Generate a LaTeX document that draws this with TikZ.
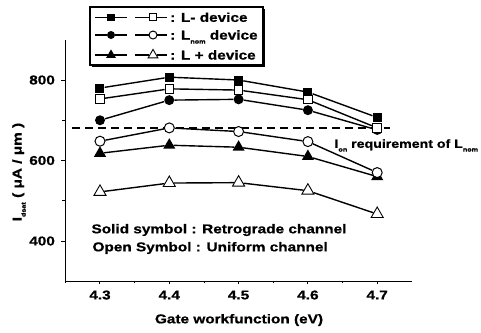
\documentclass[tikz,border=0pt]{standalone}
\usepackage{fontspec}
\setmainfont[FakeStretch=1.2,BoldFeatures={FakeBold=0.8}]{Liberation Sans}
\usetikzlibrary{shapes.geometric}
\newcommand{\lsub}[1]{\raisebox{-0.6ex}{\fontsize{6}{6}\selectfont #1}}

\begin{document}
\begin{tikzpicture}[x=69.3pt,y=40.25pt,
    font=\fontsize{12.8}{14}\selectfont\bfseries,
    fsq/.style={rectangle,fill=black,minimum size=9pt,inner sep=0pt},
    osq/.style={rectangle,draw,fill=white,line width=1pt,minimum size=8.5pt,inner sep=0pt},
    fci/.style={circle,fill=black,minimum size=10pt,inner sep=0pt},
    oci/.style={circle,draw,fill=white,line width=1pt,minimum size=10pt,inner sep=0pt},
    ftr/.style={regular polygon,regular polygon sides=3,fill=black,minimum size=14pt,inner sep=0pt},
    otr/.style={regular polygon,regular polygon sides=3,draw,fill=white,line width=0.9pt,minimum size=14pt,inner sep=0pt},
    link/.style={line width=1.4pt}]

\useasboundingbox (-1.443,1.739) rectangle (5.498,9.988);

% axes
\coordinate (o) at (-0.5,3);
\coordinate (xe) at (4.5,3);
\coordinate (ye) at (-0.5,9);
\draw[line width=1.3pt] (ye) -- (o) -- (xe);

\foreach \k/\g in {0/4.3,1/4.4,2/4.5,3/4.6,4/4.7}{
  \draw[line width=1pt] (\k,3) -- ++(0,-3pt);
  \node (xl\k) at (\k,2.658) {\g};
}
\foreach \k in {-0.5,0.5,1.5,2.5,3.5}
  \draw[line width=0.8pt] (\k,3) -- ++(0,-2pt);
\foreach \v in {4,6,8}{
  \draw[line width=1pt] (-0.5,\v) -- ++(-4pt,0);
  \node[anchor=east] (yl\v) at (-0.60,\v) {\v00};
}
\foreach \v in {5,7}
  \draw[line width=0.8pt] (-0.5,\v) -- ++(-3pt,0);

\node (xt) at (2.006,2.037) {Gate workfunction (eV)};
\node[rotate=90] (yt) at (-1.169,5.714) {I\lsub{dsat} ( μA / μm )};

% requirement line
\coordinate (dl) at (-0.404,6.82);
\coordinate (dr) at (4.185,6.82);
\draw[line width=2pt,dash pattern=on 8pt off 5pt] (dl) -- (dr);
\node[anchor=base west,font=\fontsize{11.8}{13}\selectfont\bfseries] (ion) at (3.333,6.315) {I\lsub{on} requirement of L\lsub{nom}};

% solid symbols
\foreach \v [count=\k] in {7.80,8.07,8.00,7.70,7.07}
  \node[fsq] (fs\k) at (\k-1,\v) {};
\foreach \v [count=\k] in {7.00,7.50,7.52,7.25,6.76}
  \node[fci] (fc\k) at (\k-1,\v) {};
\foreach \v [count=\k] in {6.18,6.38,6.33,6.10,5.60}
  \node[ftr] (ft\k) at (\k-1,\v) {};
\foreach \a/\b in {1/2,2/3,3/4,4/5}{
  \draw[link] (fs\a) -- (fs\b);
  \draw[link] (fc\a) -- (fc\b);
  \draw[link] (ft\a) -- (ft\b);
}

% open symbols
\foreach \v [count=\k] in {7.53,7.78,7.75,7.51,6.81}
  \node[osq] (os\k) at (\k-1,\v) {};
\foreach \v [count=\k] in {6.48,6.81,6.72,6.47,5.70}
  \node[oci] (oc\k) at (\k-1,\v) {};
\foreach \v [count=\k] in {5.22,5.44,5.45,5.25,4.67}
  \node[otr] (ot\k) at (\k-1,\v) {};
\foreach \a/\b in {1/2,2/3,3/4,4/5}{
  \draw[link] (os\a) -- (os\b);
  \draw[link] (oc\a) -- (oc\b);
  \draw[link] (ot\a) -- (ot\b);
}

\node[anchor=west] (solid) at (-0.173,4.273) {Solid symbol : Retrograde channel};
\node[anchor=west] (open) at (-0.159,3.826) {Open Symbol : Uniform channel};

% legend
\coordinate (lg1) at (-0.144,9.814);
\coordinate (lg2) at (2.352,8.373);
\fill ([shift={(2pt,-2pt)}]lg1) rectangle ([shift={(2pt,-2pt)}]lg2);
\draw[fill=white,line width=1.2pt] (lg1) rectangle (lg2);

\foreach \r/\v/\f/\o/\t in {1/9.557/fsq/osq/{: L- device},
    2/9.118/fci/oci/{: L\lsub{nom} device},3/8.621/ftr/otr/{: L + device}}{
  \coordinate (fa\r) at (-0.072,\v);
  \node[\f,transform shape,scale=0.8] (fm\r) at (0.159,\v) {};
  \coordinate (fb\r) at (0.39,\v);
  \coordinate (oa\r) at (0.505,\v);
  \node[\o,transform shape,scale=0.8] (om\r) at (0.765,\v) {};
  \coordinate (ob\r) at (0.967,\v);
  \draw[line width=1.1pt] (fa\r) -- (fm\r);
  \draw[line width=1.1pt] (fm\r) -- (fb\r);
  \draw[line width=1.1pt] (oa\r) -- (om\r);
  \draw[line width=1.1pt] (om\r) -- (ob\r);
  \node[anchor=base west,inner sep=0pt] (lt\r) at (1.01,\v-0.112) {\t};
}

\end{tikzpicture}
\end{document}
